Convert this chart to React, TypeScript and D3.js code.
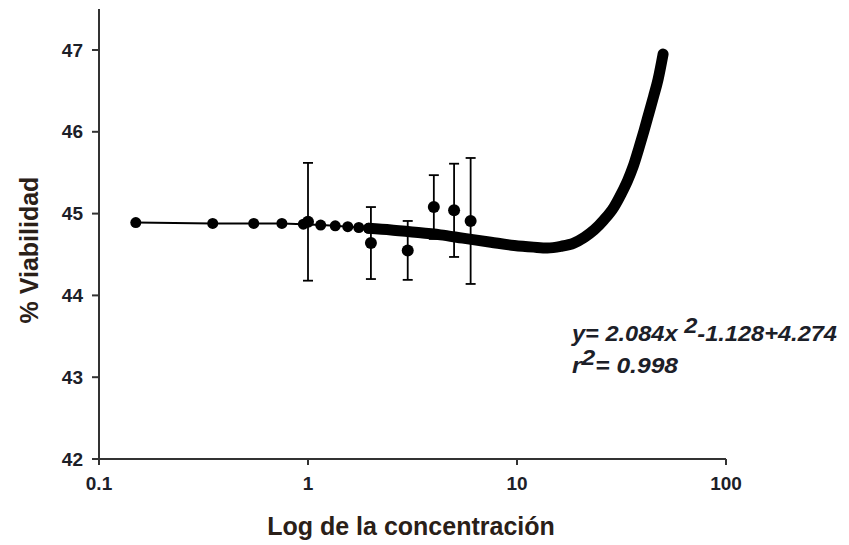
import React from 'react';
import * as d3 from 'd3';

// measured means with error bars
const measX = [1, 2, 3, 4, 5, 6];
const measY = [44.9, 44.64, 44.55, 45.08, 45.04, 44.91];
const measErr = [0.72, 0.44, 0.36, 0.39, 0.57, 0.77];

// fitted curve, separate markers at the low end
const fitMarkX = [0.15, 0.35, 0.55, 0.75, 0.95, 1.15, 1.35, 1.55, 1.75, 1.95];
const fitMarkY = [44.89, 44.88, 44.88, 44.88, 44.87, 44.86, 44.85, 44.84, 44.83, 44.82];

// fitted curve, dense part (markers merge into a band)
const bandX = [1.95, 2.5, 3, 4.3, 5.5, 7.5, 9.7, 12, 14, 16.2, 18.7, 21, 23.4, 26, 29.1, 31.5, 33.9, 36, 38.4, 40.5, 42.8, 45, 47.3, 50];
const bandY = [44.82, 44.8, 44.78, 44.74, 44.7, 44.65, 44.61, 44.59, 44.58, 44.6, 44.64, 44.71, 44.8, 44.92, 45.08, 45.24, 45.41, 45.58, 45.81, 46.01, 46.23, 46.43, 46.64, 46.95];

const xTicks = [0.1, 1, 10, 100];
const xTickLabels = ['0.1', '1', '10', '100'];
const yTicks = [42, 43, 44, 45, 46, 47];

const W = 849;
const H = 545;
const font = "'Liberation Sans', Arial, sans-serif";
const ink = '#1c2028';

export default function App() {
  const x = d3.scaleLog().domain([0.1, 100]).range([99, 726]);
  const y = d3.scaleLinear().domain([42, 47]).range([459, 50]);

  const thin = d3.line<number>()
    .x((d, i) => x(fitMarkX[i]))
    .y(d => y(d))(fitMarkY) || '';

  const band = d3.line<number>()
    .x((d, i) => x(bandX[i]))
    .y(d => y(d))
    .curve(d3.curveMonotoneX)(bandY) || '';

  return (
    <div style={{ position: 'absolute', left: 0, top: 0 }}>
      <svg width={W} height={H} style={{ display: 'block', background: '#fff' }}>
        {/* axes */}
        <line x1={99} x2={99} y1={9} y2={459} stroke="#333" strokeWidth={2} />
        <line x1={99} x2={726} y1={459} y2={459} stroke="#333" strokeWidth={2} />
        {yTicks.map(t => (
          <g key={'y' + t}>
            <line x1={92} x2={99} y1={y(t)} y2={y(t)} stroke="#333" strokeWidth={2} />
            <text x={83} y={y(t)} dy="0.35em" textAnchor="end" fontFamily={font}
              fontWeight="bold" fontSize={19} fill={ink}>{t}</text>
          </g>
        ))}
        {xTicks.map((t, i) => (
          <g key={'x' + t}>
            <line x1={x(t)} x2={x(t)} y1={459} y2={465} stroke="#333" strokeWidth={2} />
            <text x={x(t)} y={490} textAnchor="middle" fontFamily={font}
              fontWeight="bold" fontSize={19} fill={ink}>{xTickLabels[i]}</text>
          </g>
        ))}

        <text transform="translate(38,250) rotate(-90)" textAnchor="middle" fontFamily={font}
          fontWeight="bold" fontSize={25} fill="#2a2018">% Viabilidad</text>
        <text x={411} y={535} textAnchor="middle" fontFamily={font}
          fontWeight="bold" fontSize={25} fill="#2a2018">Log de la concentración</text>

        {/* fitted curve */}
        <path d={thin} fill="none" stroke="#000" strokeWidth={2} />
        <path d={band} fill="none" stroke="#000" strokeWidth={11}
          strokeLinecap="round" strokeLinejoin="round" />
        {fitMarkX.map((v, i) => (
          <circle key={'f' + i} cx={x(v)} cy={y(fitMarkY[i])} r={5.5} fill="#000" />
        ))}

        {/* measured points */}
        {measX.map((v, i) => {
          const cx = x(v);
          const top = y(measY[i] + measErr[i]);
          const bot = y(measY[i] - measErr[i]);
          return (
            <g key={'m' + i}>
              <line x1={cx} x2={cx} y1={top} y2={bot} stroke="#000" strokeWidth={1.8} />
              <line x1={cx - 5} x2={cx + 5} y1={top} y2={top} stroke="#000" strokeWidth={1.8} />
              <line x1={cx - 5} x2={cx + 5} y1={bot} y2={bot} stroke="#000" strokeWidth={1.8} />
              <circle cx={cx} cy={y(measY[i])} r={6} fill="#000" />
            </g>
          );
        })}

        {/* equation */}
        <text x={572} y={341} fontFamily={font} fontWeight="bold" fontStyle="italic"
          fontSize={22} fill={ink} textLength={265} lengthAdjust="spacingAndGlyphs">
          y= 2.084x <tspan dy={-8}>2</tspan><tspan dy={8}>-1.128+4.274</tspan>
        </text>
        <text x={572} y={373} fontFamily={font} fontWeight="bold" fontStyle="italic"
          fontSize={22} fill={ink} textLength={106} lengthAdjust="spacingAndGlyphs">
          r<tspan dy={-8}>2</tspan><tspan dy={8}>= 0.998</tspan>
        </text>
      </svg>
    </div>
  );
}
